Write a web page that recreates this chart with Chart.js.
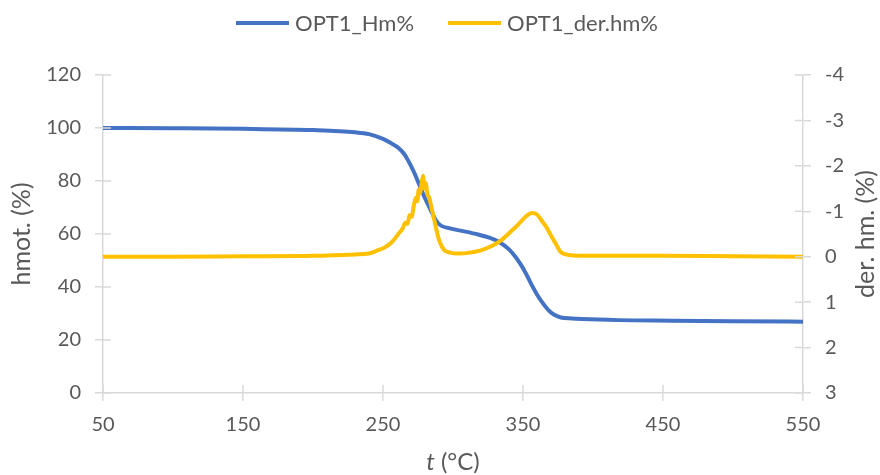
<!DOCTYPE html>
<html>
<head>
<meta charset="utf-8">
<script src="https://cdn.jsdelivr.net/npm/chart.js@4"></script>
<style>
html,body{margin:0;padding:0;background:#fff;}
#wrap{width:880px;height:475px;position:relative;}
</style>
</head>
<body>
<div id="wrap"><canvas id="c"></canvas></div>
<script>
// ---- data ----
const seriesNames = ["OPT1_Hm%", "OPT1_der.hm%"];
const tempHm = [50, 100, 150, 200, 230, 240, 250, 255, 261.5, 265, 268, 272, 276, 280, 283, 287.7, 291, 297, 309, 318, 326, 333, 340, 344, 348, 352, 356, 360, 364, 368, 372, 377, 385, 392, 418, 456, 500, 550];
const valuesHm = [100, 99.9, 99.7, 99.2, 98.4, 97.7, 95.9, 94.5, 92.3, 90.3, 87.7, 83.5, 78.5, 73.5, 70.2, 65.3, 63.3, 62.2, 60.9, 59.8, 58.6, 57, 54.2, 51.8, 48.8, 45.2, 41, 37.2, 34, 31.4, 29.6, 28.5, 28.1, 27.9, 27.5, 27.3, 27.1, 26.9];
const tempDer = [50, 100, 150, 200, 230, 240, 247, 251, 256.6, 261.5, 264, 266, 267.5, 269, 270.5, 272, 273.4, 274.5, 275.5, 276.5, 277.5, 278.6, 279.5, 280.5, 281.7, 283, 285, 287.7, 290, 293.6, 298, 304, 312, 321, 333, 345, 356.5, 360, 363, 366.5, 370.5, 373.5, 376.7, 382.6, 400, 450, 500, 550];
const valuesDer = [0, 0, -0.01, -0.02, -0.05, -0.07, -0.15, -0.2, -0.33, -0.52, -0.62, -0.75, -0.72, -0.92, -0.88, -1.12, -1.3, -1.22, -1.48, -1.4, -1.6, -1.78, -1.5, -1.62, -1.38, -1.3, -1.03, -0.66, -0.37, -0.15, -0.09, -0.07, -0.09, -0.15, -0.33, -0.66, -0.96, -0.93, -0.81, -0.66, -0.44, -0.28, -0.11, -0.04, -0.02, -0.02, -0.01, 0];
const xTicks = [50, 150, 250, 350, 450, 550];
const leftTitle = "hmot. (%)";
const rightTitle = "der. hm. (%)";
const xTitleItalic = "t";
const xTitleRest = " (°C)";

// ---- styles ----
const BLUE = "#4472C4";
const ORANGE = "#FFC000";
const AXIS = "#D9D9D9";
const TEXT = "#595959";
const FONT = "Lato";

const innerTicksAndTitles = {
  id: "innerTicksAndTitles",
  afterDraw(chart) {
    const ctx = chart.ctx;
    const xs = chart.scales.x, yl = chart.scales.y, yr = chart.scales.y2;
    const a = chart.chartArea;
    ctx.save();
    ctx.strokeStyle = AXIS;
    ctx.lineWidth = 1.5;
    ctx.beginPath();
    xs.ticks.forEach(t => { const p = xs.getPixelForValue(t.value); ctx.moveTo(p, a.bottom); ctx.lineTo(p, a.bottom - 8); });
    yl.ticks.forEach(t => { const p = yl.getPixelForValue(t.value); ctx.moveTo(a.left, p); ctx.lineTo(a.left + 8, p); });
    yr.ticks.forEach(t => { const p = yr.getPixelForValue(t.value); ctx.moveTo(a.right, p); ctx.lineTo(a.right - 8, p); });
    ctx.stroke();

    // legend
    const lf = "22px " + FONT;
    ctx.font = lf;
    const w1 = ctx.measureText(seriesNames[0]).width;
    const w2 = ctx.measureText(seriesNames[1]).width;
    const boxW = 53, gap = 6, itemGap = 34;
    const total = boxW + gap + w1 + itemGap + boxW + gap + w2;
    let x = 447 - total / 2;
    const ly = 23;
    const cols = [BLUE, ORANGE];
    const ws = [w1, w2];
    ctx.textBaseline = "middle";
    ctx.textAlign = "left";
    for (let i = 0; i < 2; i++) {
      ctx.strokeStyle = cols[i];
      ctx.lineWidth = 4;
      ctx.beginPath();
      ctx.moveTo(x, ly); ctx.lineTo(x + boxW, ly);
      ctx.stroke();
      x += boxW + gap;
      ctx.fillStyle = TEXT;
      ctx.fillText(seriesNames[i], x, ly + 1);
      x += ws[i] + itemGap;
    }

    // axis titles
    ctx.fillStyle = TEXT;
    ctx.font = "25px " + FONT;
    ctx.textAlign = "center";
    const cy = (a.top + a.bottom) / 2;
    ctx.save();
    ctx.translate(22, cy);
    ctx.rotate(-Math.PI / 2);
    ctx.fillText(leftTitle, 0, 0);
    ctx.restore();
    ctx.save();
    ctx.translate(866, cy);
    ctx.rotate(-Math.PI / 2);
    ctx.fillText(rightTitle, 0, 0);
    ctx.restore();

    // x title with italic t
    ctx.textAlign = "left";
    ctx.font = "italic 24px " + FONT;
    const wi = ctx.measureText(xTitleItalic).width;
    ctx.font = "24px " + FONT;
    const wr = ctx.measureText(xTitleRest).width;
    const cx = (a.left + a.right) / 2;
    let tx = cx - (wi + wr) / 2;
    const ty = 462;
    ctx.font = "italic 24px " + FONT;
    ctx.fillText(xTitleItalic, tx, ty);
    ctx.font = "24px " + FONT;
    ctx.fillText(xTitleRest, tx + wi, ty);
    ctx.restore();
  }
};

const tickFont = { family: FONT, size: 20 };

new Chart(document.getElementById("c"), {
  type: "line",
  data: {
    datasets: [
      {
        label: seriesNames[1],
        data: tempDer.map((t, i) => ({ x: t, y: valuesDer[i] })),
        yAxisID: "y2",
        borderColor: ORANGE,
        backgroundColor: ORANGE,
        borderWidth: 4,
        pointRadius: 0,
        cubicInterpolationMode: "monotone",
        order: 0
      },
      {
        label: seriesNames[0],
        data: tempHm.map((t, i) => ({ x: t, y: valuesHm[i] })),
        yAxisID: "y",
        borderColor: BLUE,
        backgroundColor: BLUE,
        borderWidth: 4,
        pointRadius: 0,
        cubicInterpolationMode: "monotone",
        order: 1
      }
    ]
  },
  options: {
    responsive: true,
    maintainAspectRatio: false,
    devicePixelRatio: 1,
    animation: false,
    layout: { padding: { top: 75, left: 0, right: 0, bottom: 0 } },
    plugins: { legend: { display: false }, tooltip: { enabled: false } },
    scales: {
      x: {
        type: "linear",
        min: 50, max: 550,
        afterBuildTicks: s => { s.ticks = xTicks.map(v => ({ value: v })); },
        afterFit: s => { s.height = 82; },
        grid: { drawOnChartArea: false, drawTicks: true, tickLength: 8, color: AXIS, lineWidth: 1.5 },
        border: { color: AXIS, width: 1.5 },
        ticks: { color: TEXT, font: tickFont, padding: 12, maxRotation: 0 }
      },
      y: {
        position: "left",
        min: 0, max: 120,
        ticks: { stepSize: 20, color: TEXT, font: tickFont, padding: 14 },
        afterFit: s => { s.width = 103; },
        grid: { drawOnChartArea: false, drawTicks: true, tickLength: 8, color: AXIS, lineWidth: 1.5 },
        border: { color: AXIS, width: 1.5 }
      },
      y2: {
        position: "right",
        min: -4, max: 3,
        reverse: true,
        ticks: { stepSize: 1, color: TEXT, font: tickFont, padding: 14 },
        afterFit: s => { s.width = 77; },
        grid: { drawOnChartArea: false, drawTicks: true, tickLength: 8, color: AXIS, lineWidth: 1.5 },
        border: { color: AXIS, width: 1.5 }
      }
    }
  },
  plugins: [innerTicksAndTitles]
});
</script>
</body>
</html>
